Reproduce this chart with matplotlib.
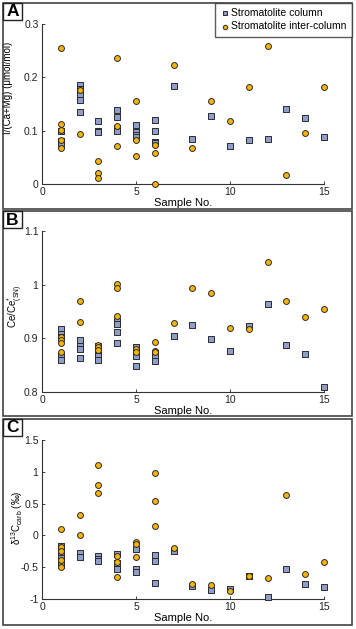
import matplotlib.pyplot as plt
from matplotlib.patches import Rectangle

plt.rcParams['font.family'] = ['Liberation Sans', 'DejaVu Sans']
plt.rcParams['mathtext.fontset'] = 'custom'
plt.rcParams['mathtext.rm'] = 'Liberation Sans'
plt.rcParams['mathtext.it'] = 'Liberation Sans'

samples = list(range(1, 16))

# values per sample (sample 1..15)
a_column = [[0.1, 0.08, 0.075], [0.185, 0.178, 0.168, 0.157, 0.135], [0.118, 0.1, 0.097],
            [0.139, 0.126, 0.105, 0.1], [0.111, 0.097, 0.092, 0.088], [0.12, 0.099, 0.079, 0.077],
            [0.184], [0.084], [0.127], [0.072], [0.083], [0.085], [0.141], [0.123], [0.088]]
a_inter = [[0.255, 0.112, 0.102, 0.082, 0.068], [0.176, 0.093], [0.044, 0.021, 0.011],
           [0.236, 0.108, 0.071], [0.156, 0.082, 0.053], [0.074, 0.058, 0.0],
           [0.224], [0.068], [0.155], [0.119], [0.182], [0.259], [0.016], [0.096], [0.182]]

b_column = [[0.918, 0.909, 0.902, 0.867, 0.86], [0.897, 0.885, 0.88, 0.863], [0.886, 0.874, 0.868, 0.86],
            [0.933, 0.927, 0.911, 0.891], [0.883, 0.867, 0.849], [0.872, 0.865, 0.857],
            [0.905], [0.924], [0.898], [0.877], [0.923], [0.964], [0.887], [0.871], [0.81]]
b_inter = [[0.903, 0.897, 0.891, 0.874], [0.969, 0.931], [0.888, 0.883, 0.879],
           [1.001, 0.993, 0.942], [0.88, 0.875], [0.894, 0.876, 0.874],
           [0.928], [0.993], [0.984], [0.919], [0.918], [1.042], [0.969], [0.939], [0.954]]

c_column = [[-0.17, -0.22, -0.3, -0.36, -0.43, -0.47], [-0.28, -0.34], [-0.32, -0.37, -0.41],
            [-0.3, -0.44, -0.53], [-0.22, -0.53, -0.58], [-0.31, -0.4, -0.75],
            [-0.24], [-0.8], [-0.86], [-0.85], [-0.64], [-0.97], [-0.53], [-0.77], [-0.81]]
c_inter = [[0.1, -0.19, -0.25, -0.39, -0.5], [0.325, 0.0], [1.11, 0.8, 0.665],
           [-0.33, -0.42, -0.655], [-0.1, -0.14, -0.34], [0.985, 0.536, 0.155],
           [-0.2], [-0.76], [-0.78], [-0.88], [-0.64], [-0.67], [0.634], [-0.6], [-0.42]]

col_color = '#8E9DCB'
int_color = '#F7B500'


def flat(groups):
    xs, ys = [], []
    for s, vals in zip(samples, groups):
        for v in vals:
            xs.append(s)
            ys.append(v)
    return xs, ys


W, H = 356, 629
fig = plt.figure(figsize=(W / 100, H / 100), dpi=100)

# axes boxes in pixels: (left, top, right, bottom), frame, ylabel centre
panels = [
    ('A', a_column, a_inter, (0, 0.3), [0, 0.1, 0.2, 0.3], ['0', '0.1', '0.2', '0.3'],
     'I/(Ca+Mg) (μmol/mol)', (42, 24, 324, 184), (3, 3, 352, 209), (8.5, 88)),
    ('B', b_column, b_inter, (0.8, 1.1), [0.8, 0.9, 1.0, 1.1], ['0.8', '0.9', '1', '1.1'],
     r'Ce/Ce$_{\rm (SN)}^{*}$', (42, 231, 324, 392), (3, 211, 352, 416), (15, 306)),
    ('C', c_column, c_inter, (-1, 1.5), [-1, -0.5, 0, 0.5, 1, 1.5], ['-1', '-0.5', '0', '0.5', '1', '1.5'],
     r'δ$^{13}$C$_{\rm carb}$ (‰)', (42, 440, 324, 599), (3, 419, 352, 625), (17, 518)),
]

for letter, col, inter, ylim, yt, ytl, ylab, box, frame, lab_pos in panels:
    l, t, r, b = box
    ax = fig.add_axes([l / W, 1 - b / H, (r - l) / W, (b - t) / H])
    xc, yc = flat(col)
    xi, yi = flat(inter)
    ax.scatter(xc, yc, marker='s', s=18, c=col_color, edgecolors='#2b2b2b', linewidths=0.7,
               label='Stromatolite column', zorder=3, clip_on=False)
    ax.scatter(xi, yi, marker='o', s=18, c=int_color, edgecolors='#2b2b2b', linewidths=0.7,
               label='Stromatolite inter-column', zorder=4, clip_on=False)
    ax.set_xlim(0, 15)
    ax.set_ylim(*ylim)
    ax.set_xticks([0, 5, 10, 15])
    ax.set_yticks(yt)
    ax.set_yticklabels(ytl)
    ax.spines['top'].set_visible(False)
    ax.spines['right'].set_visible(False)
    for sp in ('left', 'bottom'):
        ax.spines[sp].set_color('#333333')
        ax.spines[sp].set_linewidth(0.8)
    ax.tick_params(direction='in', length=2.5, width=0.6, labelsize=7.5, colors='#222222', pad=2.5)
    ax.set_xlabel('Sample No.', fontsize=8, labelpad=0.5)
    ax.set_ylabel(ylab, fontsize=7, va='center')
    ax.yaxis.set_label_coords((lab_pos[0] - l) / (r - l), (b - lab_pos[1]) / (b - t))
    ax.patch.set_alpha(0)

    # panel frame and letter box
    fl, ft, fr, fb = frame
    fig.add_artist(Rectangle((fl / W, 1 - fb / H), (fr - fl) / W, (fb - ft) / H,
                             transform=fig.transFigure, fill=False, ec='#444444', lw=1.2))
    fig.add_artist(Rectangle((fl / W, 1 - (ft + 17) / H), 19 / W, 17 / H,
                             transform=fig.transFigure, fc='white', ec='#222222', lw=1.0, zorder=5))
    fig.text((fl + 9.5) / W, 1 - (ft + 9) / H, letter, fontsize=12.5, fontweight='bold',
             va='center', ha='center', zorder=6)

    if letter == 'A':
        leg = fig.legend(*ax.get_legend_handles_labels(), loc='upper right',
                         bbox_to_anchor=(352 / W, 1 - 3 / H), fontsize=7.5, frameon=True,
                         fancybox=False, borderpad=0.5, handletextpad=0.15, labelspacing=0.3,
                         handlelength=0.9, borderaxespad=0, markerscale=0.75)
        leg.get_frame().set_edgecolor('#333333')
        leg.get_frame().set_linewidth(1.0)

fig.savefig('out.png', dpi=100)
